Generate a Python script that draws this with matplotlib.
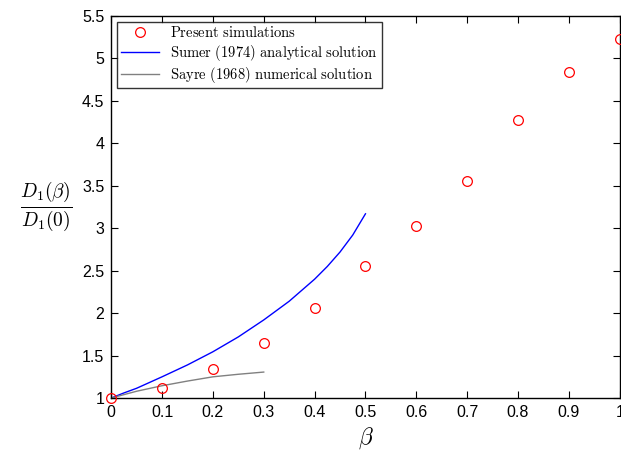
import numpy as np
import matplotlib
matplotlib.use('Agg')
import matplotlib.pyplot as plt

plt.rcParams['font.family'] = ['Liberation Sans', 'DejaVu Sans']
plt.rcParams['mathtext.fontset'] = 'cm'

# Present simulations
beta_sim = [0.0, 0.1, 0.2, 0.3, 0.4, 0.5, 0.6, 0.7, 0.8, 0.9, 1.0]
d_sim = [1.0, 1.12, 1.345, 1.645, 2.06, 2.555, 3.03, 3.556, 4.27, 4.84, 5.23]

# Sumer (1974) analytical solution
beta_sumer = [0.0, 0.025, 0.05, 0.1, 0.15, 0.2, 0.25, 0.3, 0.35, 0.4,
              0.425, 0.45, 0.475, 0.5]
d_sumer = [1.0, 1.06, 1.115, 1.25, 1.39, 1.545, 1.72, 1.92, 2.14, 2.40,
           2.55, 2.72, 2.92, 3.17]

# Sayre (1968) numerical solution
beta_sayre = [0.0, 0.05, 0.1, 0.15, 0.2, 0.25, 0.3]
d_sayre = [1.0, 1.08, 1.145, 1.2, 1.25, 1.28, 1.306]

fig = plt.figure(figsize=(6.21, 4.57), dpi=100)
ax = fig.add_axes([0.179, 0.129, 0.819, 0.836])

ax.plot(beta_sim, d_sim, 'o', mfc='none', mec='red', ms=7, mew=0.9,
        label=r'$\mathrm{Present\ simulations}$', clip_on=False, zorder=5)
ax.plot(beta_sumer, d_sumer, '-', color='blue', lw=1.0,
        label=r'$\mathrm{Sumer\ (1974)\ analytical\ solution}$')
ax.plot(beta_sayre, d_sayre, '-', color='gray', lw=1.0,
        label=r'$\mathrm{Sayre\ (1968)\ numerical\ solution}$')

ax.set_xlim(0, 1)
ax.set_ylim(1, 5.5)
ax.set_xticks(np.arange(0, 1.01, 0.1))
ax.set_xticklabels(['0', '0.1', '0.2', '0.3', '0.4', '0.5', '0.6', '0.7', '0.8', '0.9', '1'])
ax.set_yticks(np.arange(1, 5.51, 0.5))
ax.set_yticklabels(['1', '1.5', '2', '2.5', '3', '3.5', '4', '4.5', '5', '5.5'])
ax.tick_params(direction='in', top=True, right=True, labelsize=11.5, length=5,
               width=0.8, pad=5)
for s in ax.spines.values():
    s.set_linewidth(1.0)

ax.set_xlabel(r'$\beta$', fontsize=17)
ax.set_ylabel(r'$\frac{D_1(\beta)}{D_1(0)}$', fontsize=20, rotation=0, labelpad=26, va='center')

leg = ax.legend(loc='upper left', fontsize=10.5, frameon=True, fancybox=False,
                edgecolor='black', borderaxespad=0.4, handlelength=2.6,
                labelspacing=0.15, borderpad=0.25)
leg.get_frame().set_linewidth(1.0)

plt.savefig('out.png', dpi=100)
